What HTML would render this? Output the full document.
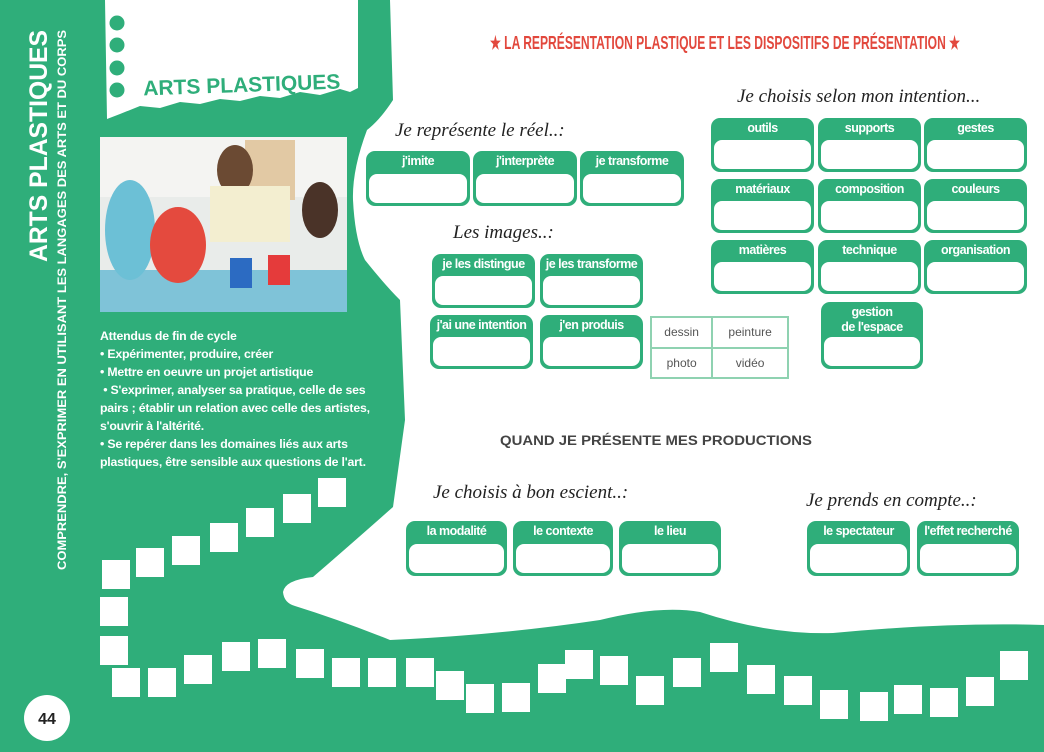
<!DOCTYPE html>
<html><head><meta charset="utf-8"><style>
*{margin:0;padding:0;box-sizing:border-box}
body{width:1044px;height:752px;position:relative;overflow:hidden;background:#2fae7a;font-family:"Liberation Sans",sans-serif}
.a{position:absolute}
.card{position:absolute;background:#2fae7a;border-radius:9px;}
.card .l{color:#fff;font-weight:bold;font-size:12.5px;text-align:center;letter-spacing:-0.5px;line-height:15px;padding-top:3px;white-space:nowrap}
.card .b{position:absolute;left:3px;right:3px;bottom:3px;height:29px;background:#fff;border-radius:8px}
.sc{position:absolute;font-family:"Liberation Serif",serif;font-style:italic;font-size:19px;color:#222;white-space:nowrap}
.sq{position:absolute;width:28px;height:29px;background:#fff}
</style></head><body>
<svg class="a" style="left:0;top:0" width="1044" height="752">
<path fill="#fff" d="M390 0 L393 100 Q380 120 367 130 Q352 170 353 200 Q355 240 365 260 Q385 285 400 300 L405 420 L393 507 Q350 545 313 577 Q285 580 283 592 Q284 603 295 606 Q340 620 390 640 Q500 635 600 620 Q660 605 700 612 Q770 635 833 633 Q950 622 1044 625 L1044 0 Z"/>
<path fill="#fff" d="M105 0 L358 0 L358 88 L350 92 L340 89 L320 95 L300 92 L280 98 L260 96 L240 101 L220 99 L200 104 L180 102 L160 108 L140 106 L120 114 L107 119 Z"/>
<circle cx="117" cy="23" r="7.5" fill="#2fae7a"/><circle cx="117" cy="45" r="7.5" fill="#2fae7a"/><circle cx="117" cy="68" r="7.5" fill="#2fae7a"/><circle cx="117" cy="90" r="7.5" fill="#2fae7a"/>
<text x="143" y="92" fill="#2fae7a" font-family="Liberation Sans" font-weight="bold" font-size="21" transform="rotate(-2 240 80)">ARTS PLASTIQUES</text>
<circle cx="47" cy="718" r="23" fill="#fff"/>
<text x="47" y="724" text-anchor="middle" font-family="Liberation Sans" font-weight="bold" font-size="16" fill="#222">44</text>
<text transform="translate(47 262) rotate(-90)" fill="#fff" font-family="Liberation Sans" font-weight="bold" font-size="25" textLength="232" lengthAdjust="spacingAndGlyphs">ARTS PLASTIQUES</text>
<text transform="translate(66 570) rotate(-90)" fill="#fff" font-family="Liberation Sans" font-weight="bold" font-size="11.6" textLength="540" lengthAdjust="spacingAndGlyphs">COMPRENDRE, S'EXPRIMER EN UTILISANT LES LANGAGES DES ARTS ET DU CORPS</text>
<text x="490" y="49" fill="#e2483d" font-family="Liberation Sans" font-weight="bold" font-size="18" textLength="470" lengthAdjust="spacingAndGlyphs">★ LA REPRÉSENTATION PLASTIQUE ET LES DISPOSITIFS DE PRÉSENTATION ★</text>
<text x="500" y="445" fill="#444" font-family="Liberation Sans" font-weight="bold" font-size="13.5" textLength="312" lengthAdjust="spacingAndGlyphs">QUAND JE PRÉSENTE MES PRODUCTIONS</text>
<!-- photo -->
<rect x="100" y="137" width="247" height="175" fill="#e9ecea"/>
<rect x="100" y="137" width="247" height="60" fill="#f4f4f2"/>
<rect x="245" y="140" width="50" height="60" fill="#e2c9a4"/>
<rect x="100" y="270" width="247" height="42" fill="#7fc3d8"/>
<ellipse cx="130" cy="230" rx="25" ry="50" fill="#6cc0d6"/>
<ellipse cx="178" cy="245" rx="28" ry="38" fill="#e44a3e"/>
<ellipse cx="235" cy="170" rx="18" ry="25" fill="#6b4a33"/>
<rect x="210" y="186" width="80" height="56" fill="#f3eed0"/>
<ellipse cx="320" cy="210" rx="18" ry="28" fill="#4a3328"/>
<rect x="230" y="258" width="22" height="30" fill="#2c6bc2"/><rect x="268" y="255" width="22" height="30" fill="#e53b3b"/>
</svg>
<div class="a" style="left:100px;top:327px;color:#fff;font-size:12.3px;line-height:18px;font-weight:bold;width:270px;letter-spacing:-0.2px">Attendus de fin de cycle<br>• Expérimenter, produire, créer<br>• Mettre en oeuvre un projet artistique<br>&nbsp;• S'exprimer, analyser sa pratique, celle de ses pairs ; établir un relation avec celle des artistes, s'ouvrir à l'altérité.<br>• Se repérer dans les domaines liés aux arts plastiques, être sensible aux questions de l'art.</div>

<div class="sc" style="left:395px;top:120px">Je représente le réel..:</div>
<div class="sc" style="left:453px;top:222px">Les images..:</div>
<div class="sc" style="left:737px;top:86px">Je choisis selon mon intention...</div>
<div class="sc" style="left:433px;top:482px">Je choisis à bon escient..:</div>
<div class="sc" style="left:806px;top:490px">Je prends en compte..:</div>

<div class="card" style="left:366px;top:151px;width:104px;height:55px"><div class="l">j'imite</div><div class="b"></div></div>
<div class="card" style="left:473px;top:151px;width:104px;height:55px"><div class="l">j'interprète</div><div class="b"></div></div>
<div class="card" style="left:580px;top:151px;width:104px;height:55px"><div class="l">je transforme</div><div class="b"></div></div>

<div class="card" style="left:711px;top:118px;width:103px;height:54px"><div class="l">outils</div><div class="b"></div></div>
<div class="card" style="left:818px;top:118px;width:103px;height:54px"><div class="l">supports</div><div class="b"></div></div>
<div class="card" style="left:924px;top:118px;width:103px;height:54px"><div class="l">gestes</div><div class="b"></div></div>
<div class="card" style="left:711px;top:179px;width:103px;height:54px"><div class="l">matériaux</div><div class="b"></div></div>
<div class="card" style="left:818px;top:179px;width:103px;height:54px"><div class="l">composition</div><div class="b"></div></div>
<div class="card" style="left:924px;top:179px;width:103px;height:54px"><div class="l">couleurs</div><div class="b"></div></div>
<div class="card" style="left:711px;top:240px;width:103px;height:54px"><div class="l">matières</div><div class="b"></div></div>
<div class="card" style="left:818px;top:240px;width:103px;height:54px"><div class="l">technique</div><div class="b"></div></div>
<div class="card" style="left:924px;top:240px;width:103px;height:54px"><div class="l">organisation</div><div class="b"></div></div>
<div class="card" style="left:821px;top:302px;width:102px;height:67px"><div class="l">gestion<br>de l'espace</div><div class="b"></div></div>

<div class="card" style="left:432px;top:254px;width:103px;height:54px"><div class="l">je les distingue</div><div class="b"></div></div>
<div class="card" style="left:540px;top:254px;width:103px;height:54px"><div class="l">je les transforme</div><div class="b"></div></div>
<div class="card" style="left:430px;top:315px;width:103px;height:54px"><div class="l">j'ai une intention</div><div class="b"></div></div>
<div class="card" style="left:540px;top:315px;width:103px;height:54px"><div class="l">j'en produis</div><div class="b"></div></div>

<table class="a" style="left:650px;top:316px;width:139px;height:63px;border-collapse:collapse;font-size:12px;color:#555;text-align:center">
<tr><td style="border:2px solid #8fd2b1">dessin</td><td style="border:2px solid #8fd2b1">peinture</td></tr>
<tr><td style="border:2px solid #8fd2b1">photo</td><td style="border:2px solid #8fd2b1">vidéo</td></tr></table>

<div class="card" style="left:406px;top:521px;width:101px;height:55px"><div class="l">la modalité</div><div class="b"></div></div>
<div class="card" style="left:513px;top:521px;width:100px;height:55px"><div class="l">le contexte</div><div class="b"></div></div>
<div class="card" style="left:619px;top:521px;width:102px;height:55px"><div class="l">le lieu</div><div class="b"></div></div>
<div class="card" style="left:807px;top:521px;width:103px;height:55px"><div class="l">le spectateur</div><div class="b"></div></div>
<div class="card" style="left:917px;top:521px;width:102px;height:55px"><div class="l">l'effet recherché</div><div class="b"></div></div>

<div class="sq" style="left:102px;top:560px"></div><div class="sq" style="left:136px;top:548px"></div><div class="sq" style="left:172px;top:536px"></div><div class="sq" style="left:210px;top:523px"></div><div class="sq" style="left:246px;top:508px"></div><div class="sq" style="left:283px;top:494px"></div><div class="sq" style="left:318px;top:478px"></div>
<div class="sq" style="left:100px;top:597px"></div><div class="sq" style="left:100px;top:636px"></div>
<div class="sq" style="left:112px;top:668px"></div><div class="sq" style="left:148px;top:668px"></div><div class="sq" style="left:184px;top:655px"></div><div class="sq" style="left:222px;top:642px"></div><div class="sq" style="left:258px;top:639px"></div><div class="sq" style="left:296px;top:649px"></div><div class="sq" style="left:332px;top:658px"></div><div class="sq" style="left:368px;top:658px"></div><div class="sq" style="left:406px;top:658px"></div><div class="sq" style="left:436px;top:671px"></div><div class="sq" style="left:466px;top:684px"></div><div class="sq" style="left:502px;top:683px"></div><div class="sq" style="left:538px;top:664px"></div><div class="sq" style="left:565px;top:650px"></div><div class="sq" style="left:600px;top:656px"></div><div class="sq" style="left:636px;top:676px"></div><div class="sq" style="left:673px;top:658px"></div><div class="sq" style="left:710px;top:643px"></div><div class="sq" style="left:747px;top:665px"></div><div class="sq" style="left:784px;top:676px"></div><div class="sq" style="left:820px;top:690px"></div><div class="sq" style="left:860px;top:692px"></div><div class="sq" style="left:894px;top:685px"></div><div class="sq" style="left:930px;top:688px"></div><div class="sq" style="left:966px;top:677px"></div><div class="sq" style="left:1000px;top:651px"></div>
</body></html>
